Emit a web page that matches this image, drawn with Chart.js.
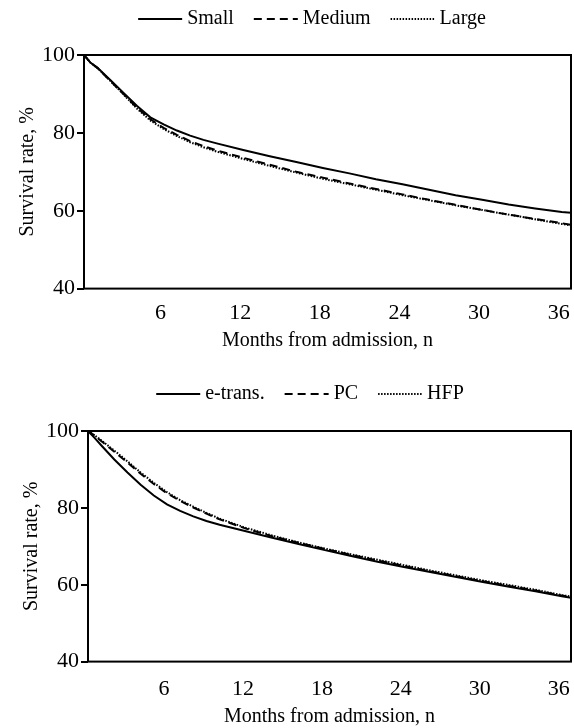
<!DOCTYPE html>
<html>
<head>
<meta charset="utf-8">
<script src="https://cdn.jsdelivr.net/npm/chart.js@4/dist/chart.umd.min.js"></script>
<style>
    body { margin: 0; background: #fff; width: 574px; height: 728px; position: relative; overflow: hidden; }
    .box { position: absolute; left: 0; width: 574px; }
</style>
</head>
<body>
<div class="box" style="top:0;height:354px"><canvas id="sizeChart"></canvas></div>
<div class="box" style="top:374px;height:358px"><canvas id="typeChart"></canvas></div>
<script>
// months from admission (x values shared by all curves)
const months = [0, 0.5, 1, 2, 3, 4, 5, 6, 7, 8, 9, 10, 12, 14, 16, 18, 20, 22, 24, 26, 28, 30, 32, 34, 36, 36.7];

// top panel: facility size
const sizeLabels = ['Small', 'Medium', 'Large'];
const small  = [100, 98.0, 96.8, 93.5, 90.2, 86.9, 84.0, 82.2, 80.6, 79.3, 78.2, 77.3, 75.6, 74.0, 72.5, 71.0, 69.6, 68.1, 66.8, 65.4, 64.0, 62.8, 61.6, 60.6, 59.7, 59.5];
const medium = [100, 98.0, 96.7, 93.3, 89.9, 86.4, 83.5, 81.3, 79.5, 77.9, 76.6, 75.5, 73.6, 71.8, 70.0, 68.5, 67.0, 65.6, 64.2, 62.8, 61.5, 60.2, 59.0, 57.9, 56.8, 56.4];
const large  = [100, 98.0, 96.7, 93.3, 89.8, 86.2, 83.2, 81.0, 79.2, 77.6, 76.3, 75.2, 73.3, 71.5, 69.8, 68.2, 66.8, 65.4, 64.0, 62.7, 61.4, 60.2, 59.0, 57.8, 56.6, 56.2];

// bottom panel: facility type
const typeLabels = ['e-trans.', 'PC', 'HFP'];
const eTrans = [100, 98.2, 96.3, 92.6, 89.2, 86.0, 83.2, 80.9, 79.2, 77.8, 76.6, 75.6, 73.9, 72.2, 70.6, 69.0, 67.5, 66.0, 64.6, 63.3, 62.0, 60.7, 59.5, 58.3, 57.0, 56.6];
const pc     = [100, 98.8, 97.4, 94.6, 91.8, 88.9, 86.2, 83.8, 81.8, 80.1, 78.5, 77.0, 74.6, 72.6, 70.9, 69.3, 67.8, 66.3, 64.9, 63.5, 62.2, 60.9, 59.7, 58.5, 57.2, 56.8];
const hfp    = [100, 98.9, 97.6, 94.9, 92.1, 89.2, 86.5, 84.1, 82.0, 80.3, 78.7, 77.2, 74.8, 72.8, 71.0, 69.4, 67.9, 66.5, 65.1, 63.7, 62.4, 61.1, 59.9, 58.7, 57.3, 56.9];

const xTicks = [6, 12, 18, 24, 30, 36];
const yTicks = [40, 60, 80, 100];

const dashes = [[], [8, 5], [1.5, 1.5]];
const serif = "'Liberation Serif', 'Times New Roman', serif";

// box round the plot area
const frame = {
    id: 'frame',
    afterDatasetsDraw(chart) {
        const { ctx, chartArea: a } = chart;
        ctx.save();
        ctx.strokeStyle = '#000';
        ctx.lineWidth = 2;
        ctx.strokeRect(a.left, a.top, a.right - a.left, a.bottom - a.top);
        ctx.restore();
    }
};

// move legend to where it sits in the figure + draw the line samples (dash patterns)
const legendPlace = {
    id: 'legendPlace',
    afterLayout(chart, args, opts) {
        const lg = chart.legend;
        const dx = opts.cx - (lg.left + lg.right) / 2;
        const dy = opts.cy - (lg.top + lg.options.labels.padding + 10);
        lg.left += dx; lg.right += dx;
        lg.top += dy; lg.bottom += dy;
    },
    afterDraw(chart) {
        const { ctx } = chart;
        chart.legend.legendHitBoxes.forEach((hb, i) => {
            const ds = chart.data.datasets[i];
            const y = hb.top + hb.height / 2;
            ctx.save();
            ctx.strokeStyle = '#000';
            ctx.lineWidth = 2;
            ctx.setLineDash(ds.borderDash);
            ctx.beginPath();
            ctx.moveTo(hb.left, y);
            ctx.lineTo(hb.left + 44, y);
            ctx.stroke();
            ctx.restore();
        });
    }
};

function renderSurvival(ctxId, labels, series, place) {
    const ctx = document.getElementById(ctxId);
    return new Chart(ctx, {
        type: 'line',
        data: {
            datasets: series.map((vals, i) => ({
                label: labels[i],
                data: vals.map((v, k) => ({ x: months[k], y: v })),
                borderColor: '#000',
                backgroundColor: '#000',
                borderWidth: 2,
                borderDash: dashes[i],
                pointRadius: 0,
                tension: 0,
                fill: false
            }))
        },
        options: {
            responsive: true,
            maintainAspectRatio: false,
            animation: false,
            layout: { padding: { left: place.left, right: 3, top: place.top, bottom: 0 } },
            plugins: {
                legend: {
                    position: 'top',
                    fullSize: false,
                    labels: {
                        boxWidth: 39,
                        boxHeight: 2,
                        color: '#000',
                        padding: 20,
                        font: { family: serif, size: 20 },
                        generateLabels: chart => Chart.defaults.plugins.legend.labels.generateLabels(chart)
                            .map(l => ({ ...l, fillStyle: 'rgba(0,0,0,0)', strokeStyle: 'rgba(0,0,0,0)', lineWidth: 0 }))
                    }
                },
                legendPlace: { cx: place.cx, cy: place.cy },
                tooltip: { enabled: false }
            },
            scales: {
                x: {
                    type: 'linear',
                    min: 0,
                    max: 36.7,
                    afterBuildTicks: s => { s.ticks = xTicks.map(v => ({ value: v })); },
                    grid: { display: false, drawTicks: true, tickLength: place.tick },
                    border: { display: false },
                    ticks: { color: '#000', font: { family: serif, size: 22 }, padding: 0, maxRotation: 0, labelOffset: -3 },
                    title: { display: true, text: 'Months from admission, n', color: '#000', font: { family: serif, size: 20 }, padding: { top: 3, bottom: place.bottom } }
                },
                y: {
                    min: 40,
                    max: 100,
                    afterBuildTicks: s => { s.ticks = yTicks.map(v => ({ value: v })); },
                    grid: { display: true, drawOnChartArea: false, drawTicks: true, tickLength: 7, color: '#000', lineWidth: 2 },
                    border: { display: false },
                    ticks: { color: '#000', font: { family: serif, size: 22 }, padding: 2 },
                    title: { display: true, text: 'Survival rate, %', color: '#000', font: { family: serif, size: 20 }, padding: { top: 6, bottom: 0 } }
                }
            }
        },
        plugins: [frame, legendPlace]
    });
}

renderSurvival('sizeChart', sizeLabels, [small, medium, large], { left: 10, top: 5, cx: 312, cy: 19, tick: 11, bottom: 1 });
renderSurvival('typeChart', typeLabels, [eTrans, pc, hfp], { left: 14, top: 7, cx: 310, cy: 20, tick: 14, bottom: 3 });
</script>
</body>
</html>
